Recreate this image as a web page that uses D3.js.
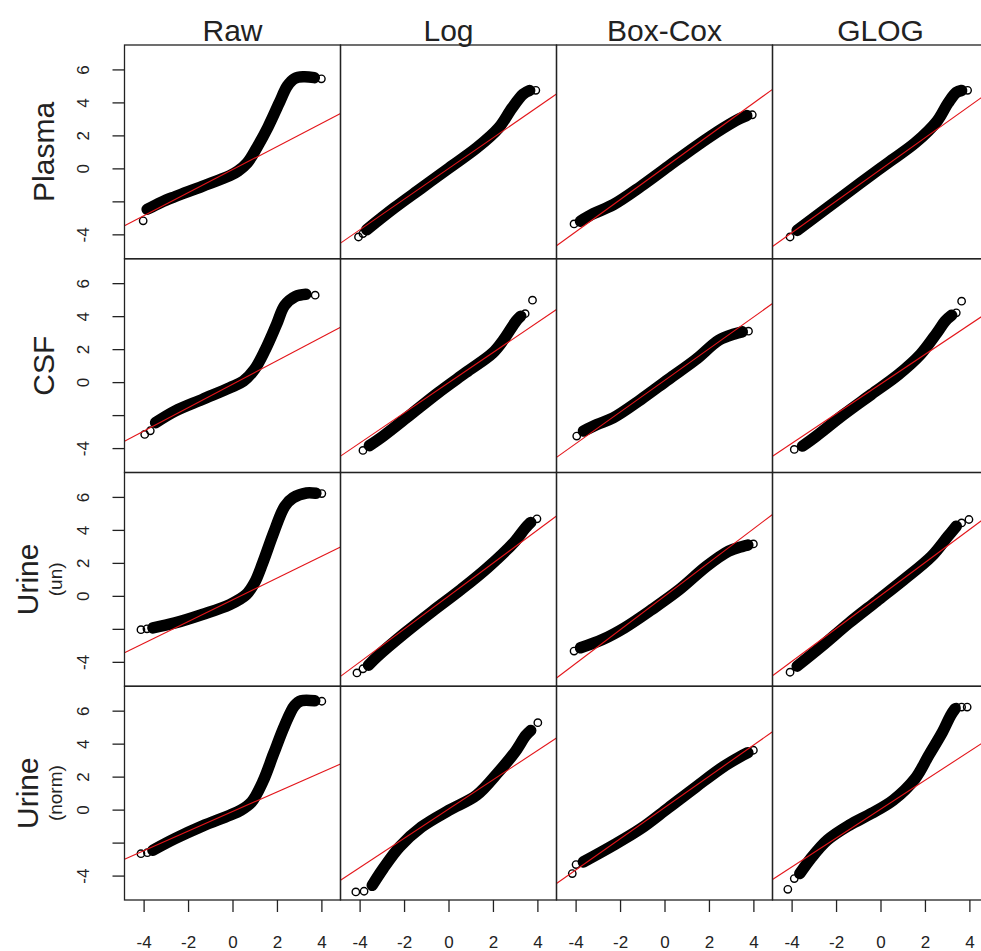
<!DOCTYPE html>
<html>
<head>
<meta charset="utf-8">
<script src="https://cdn.jsdelivr.net/npm/d3@7/dist/d3.min.js"></script>
<style>
  html, body { margin: 0; padding: 0; background: #fff; }
  svg { display: block; }
  text { font-family: "Liberation Sans", Arial, Helvetica, sans-serif; fill: #222; }
</style>
</head>
<body>
<svg id="chart" width="981" height="951"></svg>
<script>
// Normal QQ plots of four sample types under four transformations.
const columnTitles = ["Raw", "Log", "Box-Cox", "GLOG"];
const rowTitles = ["Plasma", "CSF", "Urine", "Urine"];
const rowSubtitles = ["", "", "(un)", "(norm)"];
const xTickValues = [-4, -2, 0, 2, 4];
const xTickLabels = ["-4", "-2", "0", "2", "4"];
const yTickValues = [-4, -2, 0, 2, 4, 6];
const yTickLabels = ["-4", "", "0", "2", "4", "6"];

// Dense run of sample quantiles: [theoretical, sample]
const plasmaRawBand = [[-3.84,-2.48],[-3.2,-2.05],[-2.6,-1.72],[-1.36,-1.09],[-0.12,-0.44],[0.25,-0.16],[0.67,0.34],[1.11,1.29],[1.6,2.51],[2.1,3.96],[2.47,5.0],[2.8,5.45],[3.2,5.55],[3.68,5.5]];
const plasmaLogBand = [[-3.68,-3.72],[-2.44,-2.4],[-1.21,-1.19],[0.02,0.02],[1.26,1.23],[2.25,2.44],[2.86,3.66],[3.36,4.5],[3.65,4.72]];
const plasmaBoxCoxBand = [[-3.78,-3.2],[-3.2,-2.75],[-2.3,-2.2],[-1.06,-1.09],[0.17,0.12],[1.41,1.33],[2.64,2.44],[3.38,3.02],[3.7,3.2]];
const plasmaGlogBand = [[-3.75,-3.76],[-2.4,-2.4],[-0.91,-0.89],[0.32,0.32],[1.56,1.54],[2.54,2.85],[3.04,3.96],[3.41,4.6],[3.65,4.72]];

const csfRawBand = [[-3.46,-2.46],[-2.59,-1.76],[-1.36,-1.05],[-0.12,-0.34],[0.49,0.06],[0.99,0.77],[1.48,1.98],[1.98,3.49],[2.35,4.65],[2.84,5.2],[3.3,5.33]];
const csfLogBand = [[-3.56,-3.85],[-2.94,-3.27],[-1.7,-1.96],[-0.47,-0.65],[0.77,0.57],[2.0,1.78],[2.49,2.59],[3.04,3.7],[3.25,4.0]];
const csfBoxCoxBand = [[-3.65,-2.97],[-3.04,-2.57],[-2.3,-2.16],[-1.06,-1.05],[0.17,0.16],[1.41,1.37],[2.45,2.55],[3.14,2.92],[3.5,3.05]];
const csfGlogBand = [[-3.51,-3.88],[-2.89,-3.27],[-1.65,-1.96],[-0.42,-0.75],[0.81,0.46],[1.8,1.68],[2.54,2.99],[2.91,3.7],[3.2,4.05]];

const urineUnRawBand = [[-3.58,-1.94],[-2.59,-1.64],[-1.36,-1.13],[-0.12,-0.53],[0.62,0.08],[0.99,0.79],[1.36,2.0],[1.85,3.82],[2.35,5.43],[2.72,5.94],[3.33,6.24],[3.75,6.22]];
const urineUnLogBand = [[-3.6,-4.2],[-3.19,-3.66],[-1.95,-2.24],[-0.72,-0.93],[0.52,0.34],[1.75,1.7],[2.99,3.31],[3.45,4.1],[3.7,4.45]];
const urineUnBoxCoxBand = [[-3.78,-3.15],[-2.79,-2.65],[-1.8,-1.94],[-0.57,-0.83],[0.67,0.38],[1.9,1.8],[2.89,2.71],[3.51,3.0],[3.75,3.08]];
const urineUnGlogBand = [[-3.75,-4.26],[-2.64,-3.05],[-1.41,-1.64],[-0.17,-0.32],[1.06,0.99],[2.3,2.4],[3.04,3.62],[3.41,4.22]];

const urineNormRawBand = [[-3.58,-2.46],[-2.59,-1.76],[-1.36,-1.0],[-0.12,-0.34],[0.37,-0.04],[0.86,0.46],[1.36,1.68],[1.85,3.39],[2.35,5.11],[2.79,6.3],[3.09,6.6],[3.7,6.6]];
const urineNormLogBand = [[-3.43,-4.59],[-2.94,-3.58],[-2.2,-2.26],[-1.21,-1.05],[0.02,-0.04],[1.26,0.87],[2.25,2.28],[2.99,3.49],[3.48,4.5],[3.7,4.8]];
const urineNormBoxCoxBand = [[-3.65,-3.17],[-2.3,-2.16],[-1.06,-1.15],[0.17,0.1],[1.41,1.37],[2.64,2.59],[3.38,3.19],[3.75,3.45]];
const urineNormGlogBand = [[-3.63,-3.88],[-3.14,-2.97],[-2.4,-1.86],[-1.41,-0.95],[-0.42,-0.24],[0.57,0.57],[1.56,1.88],[2.17,3.29],[2.79,4.71],[3.16,5.72],[3.35,6.1]];

// Separated extreme quantiles drawn as single open circles
const plasmaRawTails = [[-4.02,-3.18],[4.0,5.43]];
const plasmaLogTails = [[-4.05,-4.16],[-3.85,-3.95],[3.93,4.73]];
const plasmaBoxCoxTails = [[-4.07,-3.37],[3.95,3.25]];
const plasmaGlogTails = [[-4.07,-4.16],[3.92,4.73]];

const csfRawTails = [[-3.95,-3.17],[-3.7,-2.95],[3.72,5.27]];
const csfLogTails = [[-3.85,-4.14],[3.45,4.15],[3.78,4.97]];
const csfBoxCoxTails = [[-3.95,-3.27],[3.78,3.09]];
const csfGlogTails = [[-3.88,-4.08],[3.41,4.2],[3.65,4.91]];

const urineUnRawTails = [[-4.12,-2.05],[-3.85,-2.0],[4.02,6.2]];
const urineUnLogTails = [[-4.12,-4.67],[-3.85,-4.42],[3.98,4.67]];
const urineUnBoxCoxTails = [[-4.07,-3.35],[4.0,3.15]];
const urineUnGlogTails = [[-4.07,-4.63],[3.65,4.42],[3.98,4.63]];

const urineNormRawTails = [[-4.12,-2.67],[-3.83,-2.61],[4.02,6.57]];
const urineNormLogTails = [[-4.17,-4.99],[-3.8,-4.95],[4.02,5.27]];
const urineNormBoxCoxTails = [[-4.15,-3.88],[-3.98,-3.33],[4.0,3.6]];
const urineNormGlogTails = [[-4.17,-4.83],[-3.88,-4.18],[3.41,6.22],[3.65,6.22],[3.9,6.22]];

// Reference lines through the quartiles (rows: sample type, columns: transformation)
const qqIntercepts = [
  [-0.08, -0.01, 0.05, -0.07],
  [-0.13, -0.04, 0.10, -0.12],
  [-0.24, -0.02, -0.02, 0.02],
  [-0.12, 0.03, 0.12, 0.02]
];
const qqSlopes = [
  [0.70, 0.93, 0.975, 0.96],
  [0.71, 0.915, 0.96, 0.90],
  [0.66, 1.0, 1.02, 1.0],
  [0.595, 0.887, 0.947, 0.877]
];

const bands = [
  [plasmaRawBand, plasmaLogBand, plasmaBoxCoxBand, plasmaGlogBand],
  [csfRawBand, csfLogBand, csfBoxCoxBand, csfGlogBand],
  [urineUnRawBand, urineUnLogBand, urineUnBoxCoxBand, urineUnGlogBand],
  [urineNormRawBand, urineNormLogBand, urineNormBoxCoxBand, urineNormGlogBand]
];
const tails = [
  [plasmaRawTails, plasmaLogTails, plasmaBoxCoxTails, plasmaGlogTails],
  [csfRawTails, csfLogTails, csfBoxCoxTails, csfGlogTails],
  [urineUnRawTails, urineUnLogTails, urineUnBoxCoxTails, urineUnGlogTails],
  [urineNormRawTails, urineNormLogTails, urineNormBoxCoxTails, urineNormGlogTails]
];

// Layout
const gridLeft = 124.5, gridTop = 45;
const panelW = 216, panelH = 213.75;
const xDomain = [-4.86, 4.86];
const yDomain = [-5.48, 7.48];

const svg = d3.select("#chart");
const defs = svg.append("defs");

const line = d3.line()
  .curve(d3.curveCatmullRom.alpha(0.5));

columnTitles.forEach((t, c) => {
  svg.append("text")
    .attr("x", gridLeft + panelW * c + panelW / 2)
    .attr("y", 41)
    .attr("text-anchor", "middle")
    .attr("font-size", 30)
    .text(t);
});

for (let r = 0; r < 4; r++) {
  const top = gridTop + panelH * r;
  const cy = top + panelH / 2;

  // Row label (rotated), with optional smaller second line
  const hasSub = rowSubtitles[r] !== "";
  svg.append("text")
    .attr("transform", `translate(${hasSub ? 38 : 54},${cy}) rotate(-90)`)
    .attr("text-anchor", "middle")
    .attr("font-size", 30)
    .text(rowTitles[r]);
  if (hasSub) {
    svg.append("text")
      .attr("transform", `translate(62,${cy}) rotate(-90)`)
      .attr("text-anchor", "middle")
      .attr("font-size", 19)
      .text(rowSubtitles[r]);
  }

  for (let c = 0; c < 4; c++) {
    const left = gridLeft + panelW * c;
    const x = d3.scaleLinear().domain(xDomain).range([left, left + panelW]);
    const y = d3.scaleLinear().domain(yDomain).range([top + panelH, top]);
    line.x(d => x(d[0])).y(d => y(d[1]));

    const clipId = `clip-${r}-${c}`;
    defs.append("clipPath").attr("id", clipId)
      .append("rect")
      .attr("x", left).attr("y", top)
      .attr("width", panelW).attr("height", panelH);

    const g = svg.append("g").attr("clip-path", `url(#${clipId})`);

    // Dense sample quantiles
    g.append("path")
      .datum(bands[r][c])
      .attr("d", line)
      .attr("fill", "none")
      .attr("stroke", "#000")
      .attr("stroke-width", 11.5)
      .attr("stroke-linecap", "round")
      .attr("stroke-linejoin", "round");

    // Isolated extreme quantiles
    g.selectAll("circle.tail")
      .data(tails[r][c])
      .join("circle")
      .attr("class", "tail")
      .attr("cx", d => x(d[0]))
      .attr("cy", d => y(d[1]))
      .attr("r", 3.7)
      .attr("fill", "none")
      .attr("stroke", "#000")
      .attr("stroke-width", 1.4);

    // Reference line
    const a = qqIntercepts[r][c], b = qqSlopes[r][c];
    g.append("line")
      .attr("x1", x(xDomain[0])).attr("y1", y(a + b * xDomain[0]))
      .attr("x2", x(xDomain[1])).attr("y2", y(a + b * xDomain[1]))
      .attr("stroke", "#e3151a")
      .attr("stroke-width", 1.1);

    // Panel frame
    svg.append("rect")
      .attr("x", left).attr("y", top)
      .attr("width", panelW).attr("height", panelH)
      .attr("fill", "none")
      .attr("stroke", "#222")
      .attr("stroke-width", 1.3);

    // Left axis on the first column
    if (c === 0) {
      const yAxis = d3.axisLeft(y)
        .tickValues(yTickValues)
        .tickSize(12)
        .tickPadding(0)
        .tickFormat((d, i) => yTickLabels[i]);
      const ga = svg.append("g")
        .attr("transform", `translate(${left},0)`)
        .call(yAxis);
      ga.select(".domain").remove();
      ga.selectAll(".tick line").attr("stroke", "#222").attr("stroke-width", 1.3);
      ga.selectAll(".tick text")
        .attr("font-size", 17)
        .attr("font-family", null)
        .attr("x", null).attr("dy", null)
        .attr("text-anchor", "middle")
        .attr("transform", "translate(-35.5,0) rotate(-90)");
    }

    // Bottom axis on the last row
    if (r === 3) {
      const xAxis = d3.axisBottom(x)
        .tickValues(xTickValues)
        .tickSize(12)
        .tickPadding(0)
        .tickFormat((d, i) => xTickLabels[i]);
      const gb = svg.append("g")
        .attr("transform", `translate(0,${top + panelH})`)
        .call(xAxis);
      gb.select(".domain").remove();
      gb.selectAll(".tick line").attr("stroke", "#222").attr("stroke-width", 1.3);
      gb.selectAll(".tick text")
        .attr("font-size", 17)
        .attr("font-family", null)
        .attr("y", 47.5).attr("dy", null);
    }
  }
}
</script>
</body>
</html>
